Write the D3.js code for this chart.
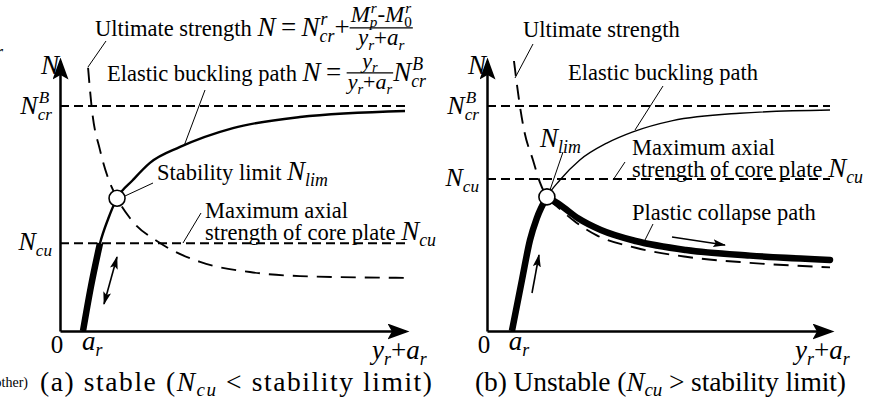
<!DOCTYPE html>
<html><head><meta charset="utf-8">
<script src="https://cdn.jsdelivr.net/npm/d3@7"></script>
<style>
body{margin:0;background:#fff}
svg text{font-family:"Liberation Serif","Tinos","Times New Roman","DejaVu Serif",serif;fill:#000;white-space:pre}
</style></head><body>
<script>
// x = y_r + a_r (a_r = 1), y = N (N_cr^B = 1)
const aR = 1.0;
const NcrB = 1.0;
const NcuA = 0.39;
const NcuB = 0.676;
const limitA = [2.48, 0.59];
const limitB = [2.62, 0.596];

const elasticA = [[1,0],[1.35,0.2],[1.74,0.39],[2.1,0.5],[2.48,0.59],[3.17,0.671],[3.91,0.747],[5.22,0.818],[7.52,0.902],[10.43,0.951],[15,0.978]];
const thickA = [[1,0],[1.35,0.2],[1.74,0.39]];
const ultimateA = [[1.22,1.17],[1.39,0.982],[1.74,0.804],[2.09,0.68],[2.48,0.591],[3.04,0.502],[4.35,0.391],[6.09,0.307],[8.26,0.262],[10.43,0.244],[15,0.236]];

const elasticB = [[1.09,0],[1.53,0.227],[1.88,0.404],[2.18,0.502],[2.62,0.596],[3.19,0.671],[4.06,0.76],[5.24,0.835],[6.38,0.885],[8.12,0.935],[11.05,0.968],[15,0.982]];
const thickB = [[1.09,0],[1.53,0.227],[1.88,0.404],[2.18,0.502],[2.62,0.596]];
const plasticB = [[2.62,0.596],[3.2,0.56],[4.0,0.5],[4.98,0.449],[6.5,0.4],[8.7,0.36],[11.5,0.335],[15,0.316]];
const ultimateB = [[1.18,1.2],[1.4,1.027],[1.62,0.893],[2.01,0.76],[2.31,0.662],[2.62,0.596],[3.1,0.55],[3.8,0.49],[4.8,0.425],[6.5,0.37],[8.7,0.33],[11.5,0.303],[15,0.283]];

const captionHead = ["(a) stable (", "(b) Unstable ("];
const captionTail = [" < stability limit)", " > stability limit)"];

const W = 873, H = 405;
const svg = d3.select("body").append("svg").attr("width", W).attr("height", H);
const defs = svg.append("defs");
function marker(id, w, h, ref) {
  defs.append("marker").attr("id", id).attr("viewBox", `0 0 ${w} ${h}`)
    .attr("refX", ref).attr("refY", h/2).attr("markerWidth", w).attr("markerHeight", h)
    .attr("markerUnits", "userSpaceOnUse").attr("orient", "auto-start-reverse")
    .append("path").attr("d", `M0,0L${w},${h/2}L0,${h}L${w*0.2},${h/2}Z`).attr("fill", "#000");
}
marker("axh", 22, 16, 18);
marker("ah", 13, 8, 12);

// text runs with sub/superscripts and fractions
function run(g, x, y, items, fs) {
  let cx = x;
  items.forEach(it => {
    const f = it.fs || fs;
    if (it.num) {
      const ff = it.ffs || f * 0.9;
      const ng = g.append("g"), dg = g.append("g");
      const nw = run(ng, 0, 0, it.num, ff);
      const dw = run(dg, 0, 0, it.den, ff);
      const w = Math.max(nw, dw) + 2;
      const ay = y - f * 0.3;
      ng.attr("transform", `translate(${cx + (w - nw)/2},${ay - ff*0.24})`);
      dg.attr("transform", `translate(${cx + (w - dw)/2},${ay + ff*0.74})`);
      g.append("line").attr("x1", cx).attr("x2", cx + w).attr("y1", ay).attr("y2", ay)
        .attr("stroke", "#000").attr("stroke-width", 1.2);
      cx += w;
      return;
    }
    const t = g.append("text").attr("x", cx).attr("y", y).style("font-size", f + "px")
      .style("font-style", it.i ? "italic" : "normal").text(it.s);
    cx += t.node().getComputedTextLength();
    if (it.sub || it.sup) {
      const s = f * 0.66;
      let w1 = 0, w2 = 0;
      if (it.sup) {
        const t2 = g.append("text").attr("x", cx + 1).attr("y", y - f*0.42).style("font-size", s + "px")
          .style("font-style", "italic").text(it.sup);
        w1 = t2.node().getComputedTextLength() + 1;
      }
      if (it.sub) {
        const t3 = g.append("text").attr("x", cx).attr("y", y + f*0.22).style("font-size", s + "px")
          .style("font-style", it.subUp ? "normal" : "italic").text(it.sub);
        w2 = t3.node().getComputedTextLength();
      }
      cx += Math.max(w1, w2);
    }
    cx += it.gap || 0;
  });
  return cx;
}
function runEnd(g, xEnd, y, items, fs) {
  const gg = g.append("g");
  const w = run(gg, 0, 0, items, fs);
  gg.attr("transform", `translate(${xEnd - w},${y})`);
}
function leader(g, x1, y1, x2, y2) {
  g.append("line").attr("x1", x1).attr("y1", y1).attr("x2", x2).attr("y2", y2)
    .attr("stroke", "#000").attr("stroke-width", 1);
}
function arrow(g, x1, y1, x2, y2, both) {
  const l = g.append("line").attr("x1", x1).attr("y1", y1).attr("x2", x2).attr("y2", y2)
    .attr("stroke", "#000").attr("stroke-width", 1.6).attr("marker-end", "url(#ah)");
  if (both) l.attr("marker-start", "url(#ah)");
}

const fsT = 22.5, fsM = 27;

function panel(x0, x1, c) {
  const x = d3.scaleLinear().domain([0, 15]).range([x0, x1]);
  const y = d3.scaleLinear().domain([0, 1.2]).range([331, 61]);
  const g = svg.append("g");
  const line = d3.line().x(d => x(d[0])).y(d => y(d[1])).curve(d3.curveMonotoneX);

  // dashed reference levels
  [NcrB, c.ncu].forEach(v => {
    g.append("line").attr("x1", x(0)).attr("x2", x(15)).attr("y1", y(v)).attr("y2", y(v))
      .attr("stroke", "#000").attr("stroke-width", 2).attr("stroke-dasharray", "9,5");
  });
  g.append("path").attr("d", line(c.ult)).attr("fill", "none").attr("stroke", "#000")
    .attr("stroke-width", 1.9).attr("stroke-dasharray", "15,9");
  g.append("path").attr("d", line(c.elastic)).attr("fill", "none").attr("stroke", "#000")
    .attr("stroke-width", c.ew);
  g.append("path").attr("d", line(c.thick)).attr("fill", "none").attr("stroke", "#000")
    .attr("stroke-width", 6.5);
  if (c.plastic) g.append("path").attr("d", line(c.plastic)).attr("fill", "none").attr("stroke", "#000")
    .attr("stroke-width", 6.5).attr("stroke-linecap", "round");
  g.append("circle").attr("cx", x(c.lim[0])).attr("cy", y(c.lim[1])).attr("r", 8)
    .attr("fill", "#fff").attr("stroke", "#000").attr("stroke-width", 1.6);

  // axes with arrow heads
  const ax = g.append("g").attr("transform", `translate(0,${y(0)})`)
    .call(d3.axisBottom(x).tickValues([]).tickSizeOuter(0));
  ax.select(".domain").attr("stroke-width", 2.5).attr("marker-end", "url(#axh)");
  const ay = g.append("g").attr("transform", `translate(${x(0)},0)`)
    .call(d3.axisLeft(y).tickValues([]).tickSizeOuter(0));
  ay.select(".domain").attr("stroke-width", 2.5).attr("marker-end", "url(#axh)");

  // axis labels
  g.append("text").attr("x", x(0) - 3).attr("y", 353).attr("text-anchor", "middle")
    .style("font-size", "25px").text("0");
  run(g, x(aR) - 1, 350, [{s: "a", i: 1, sub: "r"}], 27);
  run(g, c.yLab, 359, [{s: "y", i: 1, sub: "r"}, {s: "+"}, {s: "a", i: 1, sub: "r"}], 27);
  runEnd(g, x(0) - 1, 74, [{s: "N", i: 1}], 27);
  runEnd(g, x(0) - 8, y(NcrB) + 8, [{s: "N", i: 1, sub: "cr", sup: "B"}], 26);
  runEnd(g, x(0) - 8, y(c.ncu) + 7, [{s: "N", i: 1, sub: "cu"}], 26);

  // caption, spread over the panel width
  const cap = g.append("text").attr("x", c.capX).attr("y", 391).style("font-size", "27.5px")
    .attr("textLength", c.capW).attr("lengthAdjust", "spacing");
  cap.append("tspan").text(c.head);
  cap.append("tspan").style("font-style", "italic").text("N");
  cap.append("tspan").style("font-style", "italic").style("font-size", "19px").attr("dy", 5).text("cu");
  cap.append("tspan").attr("dy", -5).text(c.tail);
  return {x, y, g};
}

const A = panel(60, 405, {ncu: NcuA, ult: ultimateA, elastic: elasticA, thick: thickA, lim: limitA,
  ew: 2.4, yLab: 372, capX: 40, capW: 392, head: captionHead[0], tail: captionTail[0]});
const B = panel(487, 830, {ncu: NcuB, ult: ultimateB, elastic: elasticB, thick: thickB, plastic: plasticB,
  lim: limitB, ew: 1.4, yLab: 795, capX: 475, capW: 371, head: captionHead[1], tail: captionTail[1]});

// panel (a) annotations
const ga = A.g;
run(ga, 95, 36, [{s: "Ultimate strength "}, {s: "N", i: 1, fs: fsM}, {s: "\u2009=\u2009", fs: fsM},
  {s: "N", i: 1, sub: "cr", sup: "r", fs: fsM}, {s: "+", fs: fsM},
  {num: [{s: "M", i: 1, sub: "p", sup: "r"}, {s: "-"}, {s: "M", i: 1, sub: "0", subUp: 1, sup: "r"}],
   den: [{s: "y", i: 1, sub: "r"}, {s: "+"}, {s: "a", i: 1, sub: "r"}], fs: fsM, ffs: 23}], fsT);
leader(ga, 106, 41, 88, 67);
run(ga, 107, 81, [{s: "Elastic buckling path "}, {s: "N", i: 1, fs: fsM}, {s: "\u2009=\u2009", fs: fsM},
  {num: [{s: "y", i: 1, sub: "r"}], den: [{s: "y", i: 1, sub: "r"}, {s: "+"}, {s: "a", i: 1, sub: "r"}], fs: fsM, ffs: 22},
  {s: "N", i: 1, sub: "cr", sup: "B", fs: fsM}], fsT);
leader(ga, 205, 90, 184, 146);
run(ga, 157, 180, [{s: "Stability limit "}, {s: "N", i: 1, sub: "lim", fs: fsM}], fsT);
leader(ga, 153, 183, 125, 196);
run(ga, 205, 218, [{s: "Maximum axial"}], fsT);
run(ga, 205, 240, [{s: "strength of core plate "}, {s: "N", i: 1, sub: "cu", fs: fsM}], fsT);
leader(ga, 201, 213, 183, 243);
arrow(ga, 117, 257, 104, 304, true);

// panel (b) annotations
const gb = B.g;
run(gb, 523, 37, [{s: "Ultimate strength"}], fsT);
leader(gb, 533, 44, 515, 78);
run(gb, 568, 80, [{s: "Elastic buckling path"}], fsT);
leader(gb, 663, 86, 635, 130);
run(gb, 540, 147, [{s: "N", i: 1, sub: "lim"}], fsM);
leader(gb, 563, 152, 550, 190);
run(gb, 632, 155, [{s: "Maximum axial"}], fsT);
run(gb, 632, 177, [{s: "strength of core plate "}, {s: "N", i: 1, sub: "cu", fs: fsM}], fsT);
leader(gb, 625, 162, 613, 180);
run(gb, 632, 220, [{s: "Plastic collapse path"}], fsT);
leader(gb, 653, 224, 645, 240);
arrow(gb, 532, 293, 539, 255);
arrow(gb, 672, 237, 725, 245);

// cut-off neighbour text at the left edge
svg.append("text").attr("x", 28).attr("y", 387).attr("text-anchor", "end").style("font-size", "14px").text("(other)");
svg.append("text").attr("x", -4).attr("y", 58).style("font-size", "18px").style("font-style", "italic").text("r");
</script>
</body></html>
